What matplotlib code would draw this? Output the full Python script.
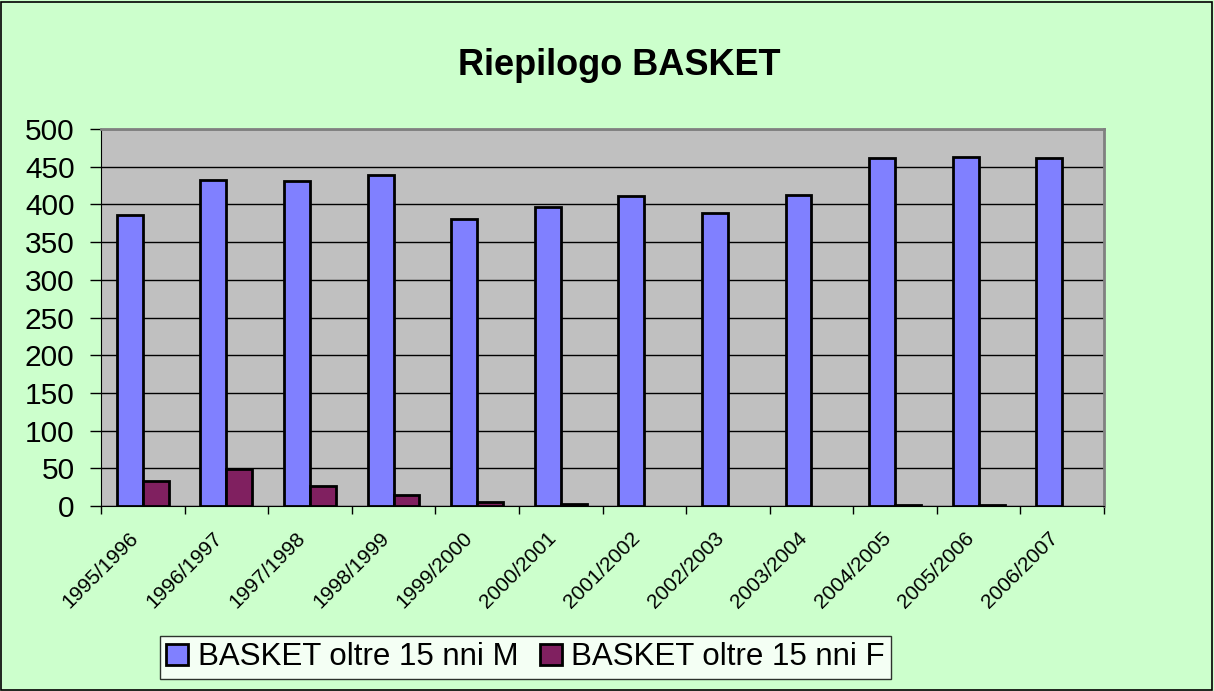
import matplotlib
matplotlib.use("Agg")
import matplotlib.pyplot as plt
import matplotlib.transforms as mtransforms
import numpy as np
from matplotlib.patches import Rectangle

seasons = ["1995/1996", "1996/1997", "1997/1998", "1998/1999", "1999/2000", "2000/2001",
           "2001/2002", "2002/2003", "2003/2004", "2004/2005", "2005/2006", "2006/2007"]
male = [386, 432, 431, 439, 381, 396, 411, 389, 412, 462, 463, 462]
female = [33, 49, 27, 14, 5, 3, 0, 0, 0, 1, 2, 0]
labels = ["BASKET oltre 15 nni M", "BASKET oltre 15 nni F"]

plt.rcParams['font.family'] = ['Liberation Sans', 'DejaVu Sans']

fig = plt.figure(figsize=(12.14, 6.91), dpi=100)
fig.patch.set_facecolor('#CCFFCC')
fig.patches.append(Rectangle((0.001, 0.0015), 0.997, 0.996, transform=fig.transFigure,
                             fill=False, edgecolor='black', linewidth=1.2))

ax = fig.add_axes([0.0832, 0.2677, 0.8262, 0.5456])
ax.set_facecolor('#C0C0C0')

x = np.arange(len(seasons))
w = 0.31
ax.bar(x - w / 2, male, w, color='#8080FF', edgecolor='black', linewidth=2,
       label=labels[0], zorder=3)
# no outline for empty bars
lw_f = [2 if v > 0 else 0 for v in female]
ax.bar(x + w / 2, female, w, color='#802060', edgecolor='black', linewidth=lw_f,
       label=labels[1], zorder=3)

ax.set_xlim(-0.5, len(seasons) - 0.5)
ax.set_ylim(0, 500)
ax.set_yticks(range(0, 501, 50))
ax.yaxis.grid(True, color='black', linewidth=1.0, zorder=1)
ax.tick_params(axis='y', labelsize=21.5, direction='out', length=8, width=1, pad=11)

ax.set_xticks(x)
ax.set_xticklabels(seasons, rotation=45, ha='right', rotation_mode='anchor', fontsize=15)
ax.tick_params(axis='x', length=0, pad=16)
shift = mtransforms.ScaledTranslation(-14 / 100, 0, fig.dpi_scale_trans)
for lbl in ax.get_xticklabels():
    lbl.set_transform(lbl.get_transform() + shift)
ax.set_xticks(np.arange(-0.5, len(seasons), 1), minor=True)
ax.tick_params(axis='x', which='minor', direction='out', length=6, width=1)

for s in ['top', 'right']:
    ax.spines[s].set_color('#808080')
    ax.spines[s].set_linewidth(2)
ax.spines['left'].set_color('black')
ax.spines['bottom'].set_color('black')

fig.text(0.51, 0.905, "Riepilogo BASKET", ha='center', va='center', fontsize=26, fontweight='bold')

leg = fig.legend(loc='center', bbox_to_anchor=(0.433, 0.0485), ncol=2, fontsize=22.5,
                 frameon=True, fancybox=False, edgecolor='black', facecolor='white',
                 handlelength=0.7, handleheight=0.7, handletextpad=0.3, columnspacing=0.7,
                 borderpad=0.2, borderaxespad=0)
leg.get_frame().set_linewidth(1.0)

fig.savefig("out.png", dpi=100, facecolor=fig.get_facecolor())
